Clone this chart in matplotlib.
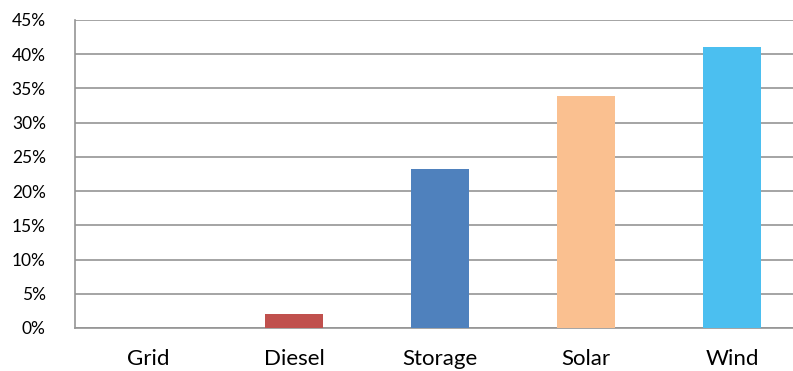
import matplotlib.pyplot as plt
from matplotlib.ticker import PercentFormatter

categories = ['Grid', 'Diesel', 'Storage', 'Solar', 'Wind']
shares = [0.0, 2.05, 23.2, 33.9, 41.0]
colors = ['#4F81BD', '#C0504D', '#4F81BD', '#FAC090', '#4BBFF0']
yticks = [0, 5, 10, 15, 20, 25, 30, 35, 40, 45]

plt.rcParams['font.family'] = ['Lato', 'DejaVu Sans']

fig = plt.figure(figsize=(7.93, 3.71), dpi=100)
# plot area runs a little past the right edge of the picture
ax = fig.add_axes([75 / 793, 1 - 328 / 371, 730 / 793, 308 / 371])

x = range(len(categories))
ax.bar(x, shares, width=0.404, color=colors, zorder=3)

ax.set_xlim(-0.5, len(categories) - 0.5)
ax.set_ylim(0, 45)
ax.set_yticks(yticks)
ax.yaxis.set_major_formatter(PercentFormatter(decimals=0))
ax.set_xticks(list(x))
ax.set_xticklabels(categories)

ax.grid(axis='y', color='#959595', linewidth=1.2, zorder=0)
for side in ['top', 'right']:
    ax.spines[side].set_visible(False)
for side in ['left', 'bottom']:
    ax.spines[side].set_color('#959595')
    ax.spines[side].set_linewidth(1.2)

ax.tick_params(axis='both', length=0, colors='black')
ax.tick_params(axis='x', pad=15, labelsize=16)
ax.tick_params(axis='y', pad=21, labelsize=12.5)

fig.savefig('out.png', dpi=100)
